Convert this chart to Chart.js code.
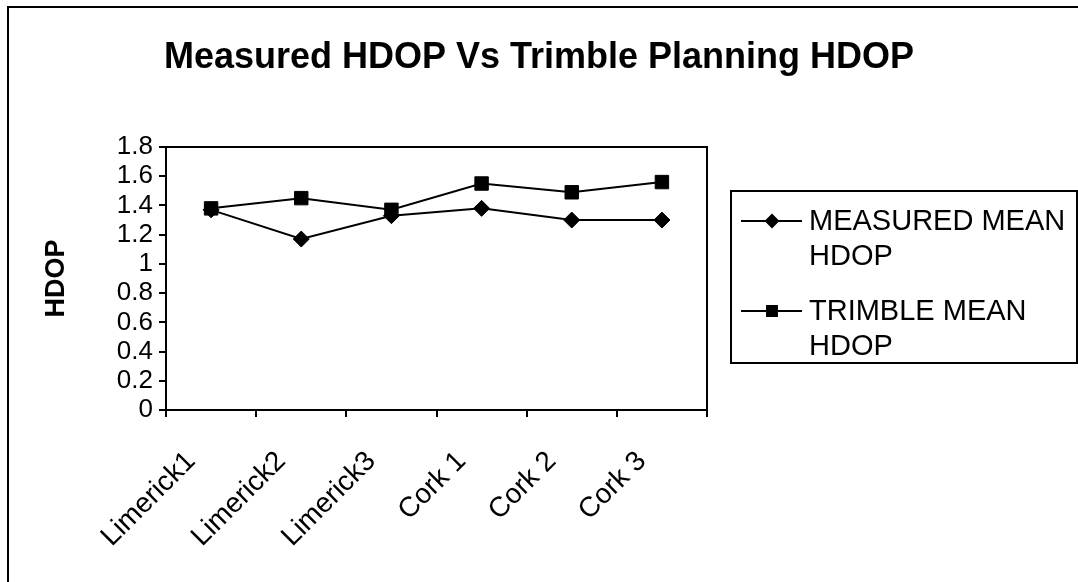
<!DOCTYPE html>
<html>
<head>
<meta charset="utf-8">
<script src="https://cdn.jsdelivr.net/npm/chart.js@4/dist/chart.umd.min.js"></script>
<style>
  html, body { margin: 0; padding: 0; background: #fff; }
  #wrap { width: 1078px; height: 582px; position: relative; }
</style>
</head>
<body>
<div id="wrap"><canvas id="c" width="1078" height="582"></canvas></div>
<script>
const categories = ['Limerick1', 'Limerick2', 'Limerick3', 'Cork 1', 'Cork 2', 'Cork 3'];
const measuredMean = [1.37, 1.17, 1.33, 1.38, 1.30, 1.30];
const trimbleMean = [1.38, 1.45, 1.37, 1.55, 1.49, 1.56];
const measuredName = ['MEASURED MEAN', 'HDOP'];
const trimbleName = ['TRIMBLE MEAN', 'HDOP'];
const yTicks = { min: 0, max: 1.8, step: 0.2 };
const chartTitle = 'Measured HDOP Vs Trimble Planning HDOP';
const yTitle = 'HDOP';

const FONT = "Arial, 'Liberation Sans', sans-serif";

const framePlugin = {
  id: 'frame',
  afterDraw(chart) {
    const ctx = chart.ctx;
    const a = chart.chartArea;
    ctx.save();
    ctx.strokeStyle = '#000';
    ctx.lineWidth = 2;
    // plot area frame (top & right sides)
    ctx.beginPath();
    ctx.moveTo(a.left, a.top);
    ctx.lineTo(a.right, a.top);
    ctx.lineTo(a.right, a.bottom);
    ctx.stroke();
    // outer chart border (left & top visible)
    ctx.beginPath();
    ctx.moveTo(8, 600);
    ctx.lineTo(8, 7);
    ctx.lineTo(1100, 7);
    ctx.stroke();

    // legend
    const box = { x: 731, y: 191, w: 346, h: 172 };
    ctx.strokeRect(box.x, box.y, box.w, box.h);
    ctx.font = "29px " + FONT;
    ctx.fillStyle = '#000';
    ctx.textBaseline = 'middle';
    ctx.textAlign = 'left';
    const lineH = 35;
    const items = chart.data.datasets.map((ds) => ({ ds, lines: ds.legendLines }));
    let y = 221;
    items.forEach((it) => {
      ctx.strokeStyle = '#000';
      ctx.lineWidth = 2;
      ctx.beginPath();
      ctx.moveTo(741, y);
      ctx.lineTo(802, y);
      ctx.stroke();
      Chart.helpers.drawPoint(ctx, {
        pointStyle: it.ds.pointStyle,
        radius: it.ds.legendRadius,
        borderWidth: 1
      }, 772, y);
      ctx.fillStyle = '#000';
      it.lines.forEach((ln, k) => {
        ctx.fillText(ln, 809, y + 1 + k * lineH);
      });
      y += it.lines.length * lineH + 20;
    });
    ctx.restore();
  }
};

new Chart(document.getElementById('c'), {
  type: 'line',
  data: {
    labels: categories,
    datasets: [
      {
        label: measuredName.join(' '),
        legendLines: measuredName,
        data: measuredMean,
        borderColor: '#000',
        backgroundColor: '#000',
        borderWidth: 2,
        pointStyle: 'rectRot',
        pointRadius: 8,
        legendRadius: 6,
        pointBorderWidth: 1,
        tension: 0
      },
      {
        label: trimbleName.join(' '),
        legendLines: trimbleName,
        data: trimbleMean,
        borderColor: '#000',
        backgroundColor: '#000',
        borderWidth: 2,
        pointStyle: 'rect',
        pointRadius: 9.5,
        legendRadius: 7,
        pointBorderWidth: 1,
        tension: 0
      }
    ]
  },
  options: {
    responsive: false,
    animation: false,
    devicePixelRatio: 1,
    layout: { padding: 0 },
    plugins: {
      legend: { display: false },
      tooltip: { enabled: false },
      title: {
        display: true,
        text: chartTitle,
        color: '#000',
        font: { family: FONT, size: 36, weight: 'bold', lineHeight: 1.2 },
        padding: { top: 36, bottom: 147 - 36 - 43.2 }
      }
    },
    scales: {
      x: {
        type: 'category',
        offset: true,
        grid: {
          offset: true,
          drawOnChartArea: false,
          drawTicks: true,
          tickLength: 7,
          color: '#000',
          lineWidth: 2
        },
        border: { display: true, color: '#000', width: 2 },
        ticks: {
          color: '#000',
          font: { family: FONT, size: 28 },
          minRotation: 45,
          maxRotation: 45,
          autoSkip: false,
          padding: 28,
          labelOffset: -20
        },
        afterFit(s) { s.height = 172; }
      },
      y: {
        position: 'left',
        min: yTicks.min,
        max: yTicks.max,
        grid: {
          drawOnChartArea: false,
          drawTicks: true,
          tickLength: 7,
          color: '#000',
          lineWidth: 2
        },
        border: { display: true, color: '#000', width: 2 },
        ticks: {
          stepSize: yTicks.step,
          autoSkip: false,
          color: '#000',
          font: { family: FONT, size: 26, lineHeight: 1 },
          padding: 6,
          callback: (v) => String(Math.round(v * 10) / 10)
        },
        title: {
          display: true,
          text: yTitle,
          color: '#000',
          font: { family: FONT, size: 27, weight: 'bold', lineHeight: 1.2 },
          padding: { top: 40, bottom: 0 }
        },
        afterFit(s) { s.width = 166; }
      },
      spacer: {
        position: 'right',
        display: true,
        grid: { display: false, drawTicks: false },
        border: { display: false },
        ticks: { display: false },
        afterFit(s) { s.width = 1078 - 707; }
      }
    }
  },
  plugins: [framePlugin]
});
</script>
</body>
</html>
